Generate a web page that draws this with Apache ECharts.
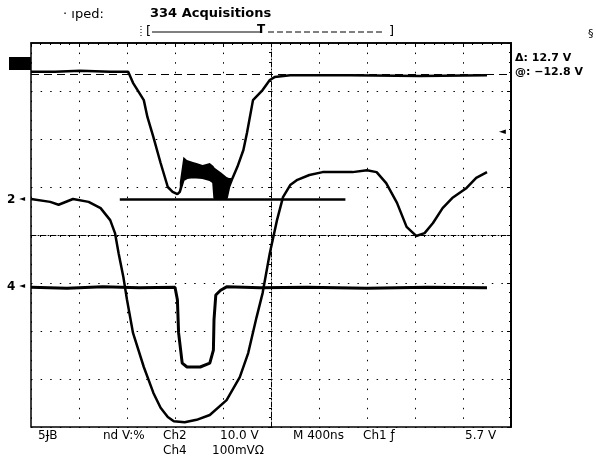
<!DOCTYPE html>
<html>
<head>
<meta charset="utf-8">
<script src="https://cdn.jsdelivr.net/npm/echarts@6/dist/echarts.min.js"></script>
<style>html,body{margin:0;background:#fff}#main{width:596px;height:462px}</style>
</head>
<body>
<div id="main"></div>
<script>
// time in ns (400 ns/div, trigger at centre), amplitude in screen divisions
var ch1Time = [-2000, -1800, -1590, -1340, -1190, -1150, -1060, -1030, -980, -920, -860, -820, -780, -760,
  -730, -700, -650, -570, -510, -480, -470, -370, -350,
  -320, -280, -230, -200, -150, -70, -10, 30, 160, 660, 1240, 1800];
var ch1Div = [3.40, 3.40, 3.42, 3.40, 3.40, 3.17, 2.81, 2.46, 2.04, 1.50, 1.00, 0.90, 0.85, 0.90,
  1.15, 1.19, 1.21, 1.19, 1.15, 1.10, 0.77, 0.77, 1.00,
  1.19, 1.42, 1.77, 2.13, 2.81, 3.02, 3.23, 3.29, 3.33, 3.33, 3.31, 3.33];

// noisy burst on ch1: upper and lower envelope
var burstTime = [-760, -730, -700, -650, -620, -570, -510, -480, -470, -410, -370, -350, -320];
var burstTop = [1.10, 1.63, 1.56, 1.52, 1.50, 1.46, 1.50, 1.44, 1.40, 1.29, 1.21, 1.19, 1.19];
var burstBottom = [0.88, 1.15, 1.19, 1.21, 1.21, 1.19, 1.15, 1.10, 0.77, 0.77, 0.77, 1.00, 1.19];

var ch2Time = [-2000, -1840, -1770, -1650, -1520, -1420, -1340, -1300, -1270, -1230, -1200, -1150, -1060,
  -980, -920, -860, -810, -720, -620, -510, -370, -260, -190, -120, -70, -10, 50, 100, 160, 220, 320,
  430, 680, 800, 880, 960, 1050, 1130, 1210, 1280, 1350, 1430, 1510, 1630, 1710, 1800];
var ch2Div = [0.75, 0.69, 0.63, 0.75, 0.69, 0.56, 0.31, 0.04, -0.38, -0.88, -1.35, -2.04, -2.75,
  -3.29, -3.60, -3.79, -3.88, -3.90, -3.85, -3.75, -3.44, -2.96, -2.46, -1.71, -1.21, -0.38, 0.31, 0.79, 1.04, 1.15, 1.25,
  1.31, 1.31, 1.35, 1.31, 1.08, 0.67, 0.17, -0.02, 0.04, 0.25, 0.56, 0.77, 0.98, 1.19, 1.31];

var ch4Time = [-2000, -1700, -1400, -1100, -800, -780, -770, -740, -700, -590, -510, -480, -475, -460,
  -420, -370, -90, 300, 800, 1300, 1800];
var ch4Div = [-1.09, -1.11, -1.08, -1.10, -1.09, -1.35, -2.04, -2.67, -2.75, -2.75, -2.67, -2.40, -1.77, -1.25,
  -1.15, -1.08, -1.10, -1.09, -1.11, -1.09, -1.10];

// horizontal cursor bar and dashed level cursor
var barTime = [-1260, 620];
var barLevel = 0.74;
var cursorLevel = 3.35;

function pairs(xs, ys) {
  return xs.map(function (x, i) { return [x, ys[i]]; });
}

var burstPoly = pairs(burstTime, burstTop).concat(pairs(burstTime, burstBottom).reverse());

var chart = echarts.init(document.getElementById('main'));
var txt = function (x, y, s, extra) {
  var st = { text: s, fill: '#000', font: '12px "DejaVu Sans"', textVerticalAlign: 'middle' };
  for (var k in extra) st[k] = extra[k];
  return { type: 'text', left: x, top: y, style: st, z: 10 };
};

// centre crosshair axes (dash-dot with ticks) and frame axes (inside ticks)
var makeAxis = function (pos, isX, centre) {
  return {
    type: 'value',
    position: pos,
    min: isX ? -2000 : -4,
    max: isX ? 2000 : 4,
    interval: isX ? 400 : 1,
    axisLine: {
      show: true, onZero: centre,
      lineStyle: centre ? { color: '#000', width: 1, type: [5, 2, 1, 2] } : { color: '#000', width: pos === 'right' ? 2 : 1.5 }
    },
    axisTick: { show: true, inside: !centre, length: centre ? 3 : 4, lineStyle: { color: '#000' } },
    minorTick: { show: true, splitNumber: 5, length: 2, lineStyle: { color: '#000' } },
    axisLabel: { show: false },
    splitLine: { show: centre, lineStyle: { color: '#000', width: 1, type: [1.5, 8.1] } }
  };
};

var option = {
  animation: false,
  backgroundColor: '#fff',
  grid: { left: 31, right: 85, top: 43, bottom: 35, show: true, borderColor: '#000', borderWidth: 1.5, backgroundColor: 'transparent' },
  xAxis: [makeAxis('bottom', true, true), makeAxis('top', true, false)],
  yAxis: [makeAxis('left', false, true), makeAxis('right', false, false)],
  series: [
    {
      name: 'Ch1', type: 'line', data: pairs(ch1Time, ch1Div), showSymbol: false,
      lineStyle: { color: '#000', width: 2.5 },
      markLine: {
        silent: true, symbol: 'none', label: { show: false },
        data: [
          { yAxis: cursorLevel, lineStyle: { color: '#000', width: 1, type: [8, 5] } }
        ]
      }
    },
    {
      name: 'burst', type: 'custom', data: burstPoly,
      renderItem: function (params, api) {
        if (params.dataIndex !== 0) return;
        var pts = burstPoly.map(function (d) { return api.coord(d); });
        return { type: 'polygon', shape: { points: pts }, style: { fill: '#000' } };
      }
    },
    {
      name: 'Ch2', type: 'line', data: pairs(ch2Time, ch2Div), showSymbol: false,
      lineStyle: { color: '#000', width: 2.5 }
    },
    {
      name: 'Ch4', type: 'line', data: pairs(ch4Time, ch4Div), showSymbol: false,
      lineStyle: { color: '#000', width: 3 }
    },
    {
      name: 'bar', type: 'line', data: pairs(barTime, [barLevel, barLevel]), showSymbol: false,
      lineStyle: { color: '#000', width: 2.5 }
    }
  ],
  graphic: [
    txt(63, 8, '· ıped:', { font: '13px "DejaVu Sans"' }),
    txt(150, 7, '334 Acquisitions', { font: 'bold 13px "DejaVu Sans"' }),
    // top record bracket
    txt(146, 25, '[', { font: '13px "DejaVu Sans"' }),
    { type: 'line', shape: { x1: 152, y1: 32, x2: 262, y2: 32 }, style: { stroke: '#000', lineWidth: 1 } },
    { type: 'line', shape: { x1: 141, y1: 26, x2: 141, y2: 38 }, style: { stroke: '#000', lineWidth: 1, lineDash: [1, 2] } },
    txt(257, 24, 'T', { font: 'bold 12px "DejaVu Sans"' }),
    { type: 'line', shape: { x1: 268, y1: 32, x2: 382, y2: 32 }, style: { stroke: '#000', lineWidth: 1, lineDash: [6, 3] } },
    txt(389, 25, ']', { font: '13px "DejaVu Sans"' }),
    // channel markers
    { type: 'rect', shape: { x: 9, y: 57, width: 22, height: 13 }, style: { fill: '#000' } },
    txt(7, 194, '2', { font: 'bold 12px "DejaVu Sans"' }),
    txt(19, 195, '◄', { font: '8px "DejaVu Sans"' }),
    txt(7, 281, '4', { font: 'bold 12px "DejaVu Sans"' }),
    txt(19, 282, '◄', { font: '8px "DejaVu Sans"' }),
    txt(499, 127, '◄', { font: '9px "DejaVu Sans"' }),
    // cursor readout
    txt(515, 53, 'Δ: 12.7 V', { font: 'bold 11px "DejaVu Sans"' }),
    txt(515, 67, '@: −12.8 V', { font: 'bold 11px "DejaVu Sans"' }),
    txt(588, 29, '§', { font: '11px "DejaVu Sans"' }),
    // bottom status lines
    txt(38, 430, '5ɈB', {}),
    txt(103, 430, 'nd V:%', {}),
    txt(163, 430, 'Ch2', {}),
    txt(220, 430, '10.0 V', {}),
    txt(293, 430, 'M 400ns', {}),
    txt(363, 430, 'Ch1 ƒ', {}),
    txt(465, 430, '5.7 V', {}),
    txt(163, 445, 'Ch4', {}),
    txt(212, 445, '100mVΩ', {})
  ]
};
chart.setOption(option);
</script>
</body>
</html>
